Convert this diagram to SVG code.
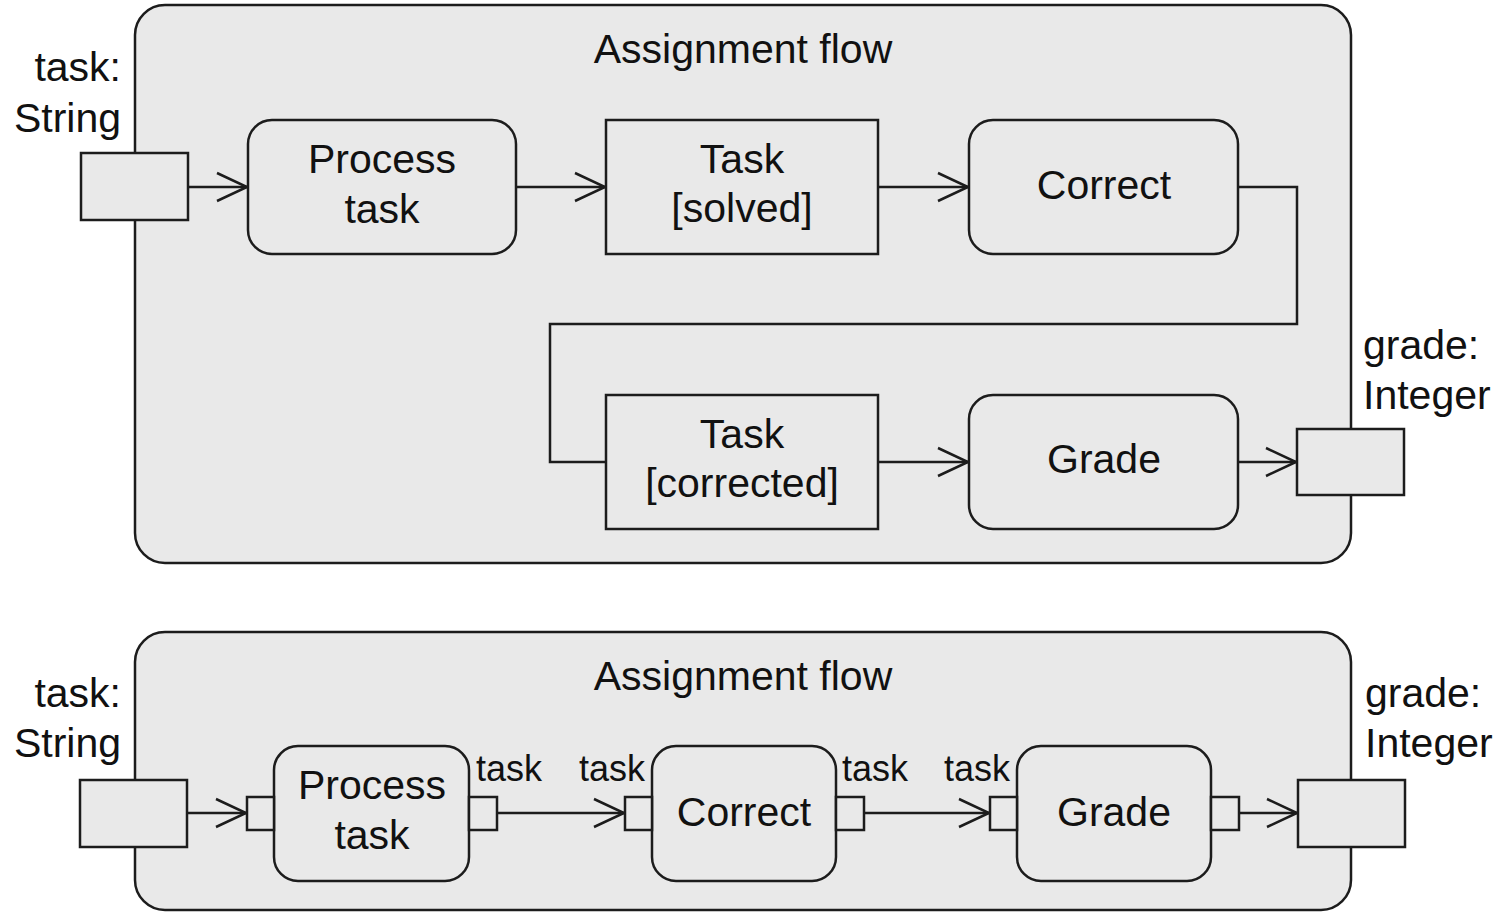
<svg xmlns="http://www.w3.org/2000/svg" width="1505" height="912" viewBox="0 0 1505 912">
<style>
.frame{fill:#e9e9e9;stroke:#1c1c1c;stroke-width:2.5}
.node{fill:#e9e9e9;stroke:#1c1c1c;stroke-width:2.5}
.pin{fill:#e9e9e9;stroke:#1c1c1c;stroke-width:2.5}
.edge{fill:none;stroke:#1c1c1c;stroke-width:2.5}
text{font-family:"Liberation Sans",Arial,sans-serif;fill:#111;font-size:41px}
.c{text-anchor:middle}
.e{text-anchor:end}
.s{font-size:36px}
</style>
<defs>
<marker id="arr" markerUnits="userSpaceOnUse" viewBox="-34 -17 37 34" refX="0" refY="0" markerWidth="37" markerHeight="34" orient="auto">
<path d="M-30,-14 L0,0 L-30,14" fill="none" stroke="#1c1c1c" stroke-width="2.5"/>
</marker>
</defs>

<g id="frame-top">
<rect class="frame" x="135" y="5" width="1216" height="558" rx="30"/>
<text class="c" x="743" y="63">Assignment flow</text>
</g>
<g id="frame-bottom">
<rect class="frame" x="135" y="632" width="1216" height="278" rx="30"/>
<text class="c" x="743" y="690">Assignment flow</text>
</g>

<g id="connectors">
<line class="edge" x1="188" y1="187" x2="247" y2="187" marker-end="url(#arr)"/>
<line class="edge" x1="516" y1="187" x2="605" y2="187" marker-end="url(#arr)"/>
<line class="edge" x1="878" y1="187" x2="968" y2="187" marker-end="url(#arr)"/>
<polyline class="edge" points="1238,187 1297,187 1297,324 550,324 550,462 606,462"/>
<line class="edge" x1="878" y1="462" x2="968" y2="462" marker-end="url(#arr)"/>
<line class="edge" x1="1238" y1="462" x2="1296" y2="462" marker-end="url(#arr)"/>
<line class="edge" x1="187" y1="813" x2="246" y2="813" marker-end="url(#arr)"/>
<line class="edge" x1="497" y1="813" x2="624" y2="813" marker-end="url(#arr)"/>
<line class="edge" x1="864" y1="813" x2="989" y2="813" marker-end="url(#arr)"/>
<line class="edge" x1="1239" y1="813" x2="1297" y2="813" marker-end="url(#arr)"/>
</g>

<g id="in-top">
<rect class="pin" x="81" y="153" width="107" height="67"/>
<text class="e" x="121" y="81">task:</text>
<text class="e" x="121" y="132">String</text>
</g>
<g id="process-task-top">
<rect class="node" x="248" y="120" width="268" height="134" rx="24"/>
<text class="c" x="382" y="173">Process</text>
<text class="c" x="382" y="223">task</text>
</g>
<g id="task-solved">
<rect class="node" x="606" y="120" width="272" height="134"/>
<text class="c" x="742" y="173">Task</text>
<text class="c" x="742" y="222">[solved]</text>
</g>
<g id="correct-top">
<rect class="node" x="969" y="120" width="269" height="134" rx="24"/>
<text class="c" x="1104" y="199">Correct</text>
</g>
<g id="task-corrected">
<rect class="node" x="606" y="395" width="272" height="134"/>
<text class="c" x="742" y="448">Task</text>
<text class="c" x="742" y="497">[corrected]</text>
</g>
<g id="grade-top">
<rect class="node" x="969" y="395" width="269" height="134" rx="24"/>
<text class="c" x="1104" y="473">Grade</text>
</g>
<g id="out-top">
<rect class="pin" x="1297" y="429" width="107" height="66"/>
<text x="1363" y="359">grade:</text>
<text x="1363" y="409">Integer</text>
</g>

<g id="in-bottom">
<rect class="pin" x="80" y="780" width="107" height="67"/>
<text class="e" x="121" y="707">task:</text>
<text class="e" x="121" y="757">String</text>
</g>
<g id="process-task-bottom">
<rect class="node" x="274" y="746" width="195" height="135" rx="24"/>
<rect class="pin" x="247" y="797" width="27" height="33"/>
<rect class="pin" x="469" y="797" width="28" height="33"/>
<text class="c" x="372" y="799">Process</text>
<text class="c" x="372" y="849">task</text>
<text class="s" x="476" y="781">task</text>
</g>
<g id="correct-bottom">
<rect class="node" x="652" y="746" width="184" height="135" rx="24"/>
<rect class="pin" x="625" y="797" width="27" height="33"/>
<rect class="pin" x="836" y="797" width="28" height="33"/>
<text class="c" x="744" y="826">Correct</text>
<text class="s e" x="645" y="781">task</text>
<text class="s" x="842" y="781">task</text>
</g>
<g id="grade-bottom">
<rect class="node" x="1017" y="746" width="194" height="135" rx="24"/>
<rect class="pin" x="990" y="797" width="27" height="33"/>
<rect class="pin" x="1211" y="797" width="28" height="33"/>
<text class="c" x="1114" y="826">Grade</text>
<text class="s e" x="1010" y="781">task</text>
</g>
<g id="out-bottom">
<rect class="pin" x="1298" y="780" width="107" height="67"/>
<text x="1365" y="707">grade:</text>
<text x="1365" y="757">Integer</text>
</g>
</svg>
